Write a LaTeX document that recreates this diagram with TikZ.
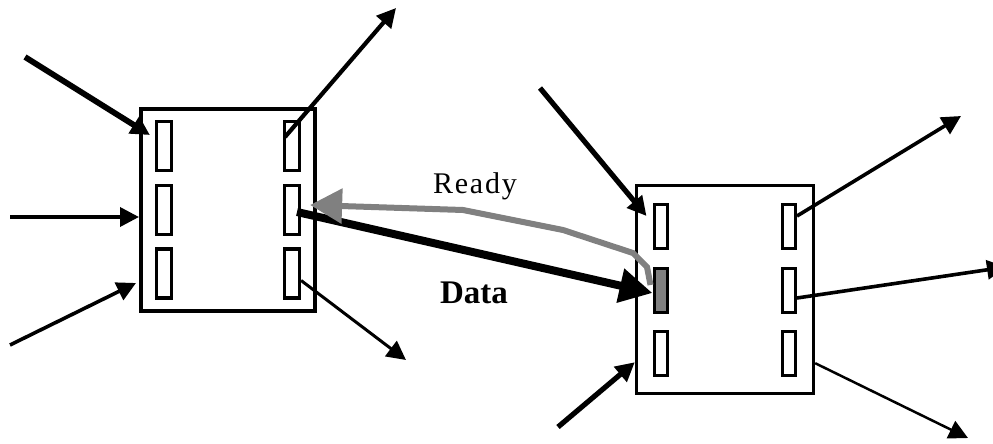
\documentclass[tikz,border=0pt]{standalone}
\usepackage{fontspec}
\setmainfont{Liberation Serif}
\usetikzlibrary{arrows.meta,positioning,calc}
\definecolor{signal}{HTML}{808080}
\tikzset{
  unit/.style={
    draw, line width=3.4pt, fill=white,
    inner sep=0pt
  },
  slot/.style={
    draw, line width=3.2pt, fill=white,
    inner sep=0pt, minimum width=15pt, minimum height=49pt
  },
  slotsmall/.style={
    slot, line width=3pt, minimum width=13pt, minimum height=44pt
  },
  wire/.style={-{Triangle[length=19pt,width=19pt]}, line width=3.6pt},
  datawire/.style={-{Triangle[length=33pt,width=33pt]}, line width=8pt},
  readywire/.style={-{Triangle[length=32pt,width=34pt]}, line width=6pt,
    draw=signal, line join=miter}
}

\begin{document}
\begin{tikzpicture}[x=1pt,y=-1pt]
  \useasboundingbox (0,0) rectangle (993,444);

  % left unit
  \node[unit, line width=4pt, minimum width=174pt, minimum height=202pt] (boxA) at (228,210) {};
  \node[slot] (a1) at (164,146) {};
  \node[slot] (a2) at (164,210) {};
  \node[slot] (a3) at (164,273.5) {};
  \node[slot] (a4) at (292,146) {};
  \node[slot] (a5) at (292,210) {};
  \node[slot] (a6) at (292,273.5) {};

  % right unit
  \node[unit, minimum width=177pt, minimum height=208pt] (boxB) at (725,289.5) {};
  \node[slotsmall] (b1) at (660.5,226) {};
  \node[slotsmall, fill=signal] (b2) at (660.5,290) {};
  \node[slotsmall] (b3) at (660.5,353.5) {};
  \node[slotsmall] (b4) at (789,226) {};
  \node[slotsmall] (b5) at (789,290) {};
  \node[slotsmall] (b6) at (789,353.5) {};

  % free ends
  \coordinate (inA1) at (25,57);
  \coordinate (inA2) at (10,217);
  \coordinate (inA3) at (10,345);
  \coordinate (outA1) at (396,8);
  \coordinate (outA2) at (406,360);
  \coordinate (inB1) at (540,88);
  \coordinate (inB2) at (558,427);
  \coordinate (outB1) at (961,116);
  \coordinate (outB2) at (1006,267);
  \coordinate (outB3) at (968,438);

  \draw[wire, line width=5.8pt] (inA1) -- ([shift={(-5,-11)}]a1.west);
  \draw[wire] (inA2) -- ([shift={(0,7)}]boxA.west);
  \draw[wire] (inA3) -- ([shift={(-3,-30)}]boxA.south west);
  \draw[wire, line width=4.2pt] ([shift={(-7,-9)}]a4.center) -- (outA1);
  \draw[wire, line width=3pt] ([shift={(0,7)}]a6.east) -- (outA2);

  \draw[wire, line width=5.2pt] (inB1) -- ([shift={(-6,-10)}]b1.west);
  \draw[wire, line width=5.2pt] (inB2) -- ([shift={(0,-33)}]boxB.south west);
  \draw[wire] ([shift={(0,-10)}]b4.east) -- (outB1);
  \draw[wire] ([shift={(0,8)}]b5.east) -- (outB2);
  \draw[wire, line width=2.5pt] ([shift={(0,-32)}]boxB.south east) -- (outB3);

  % handshake
  \draw[datawire] ([shift={(5,2)}]a5.center) -- ([shift={(0,3)}]b2.west);
  \draw[readywire] ([shift={(-10,-5)}]b2.center) -- (647,267) -- (633,253)
    -- (563,230) -- (463,210) -- ([shift={(9,-5)}]a5.east);

  \node[font=\addfontfeatures{LetterSpace=6}\fontsize{30}{34}\selectfont] (ready) at (475,186) {Ready};
  \node[font=\fontsize{33}{38}\selectfont\bfseries] (data) at (474,293) {Data};
\end{tikzpicture}
\end{document}
